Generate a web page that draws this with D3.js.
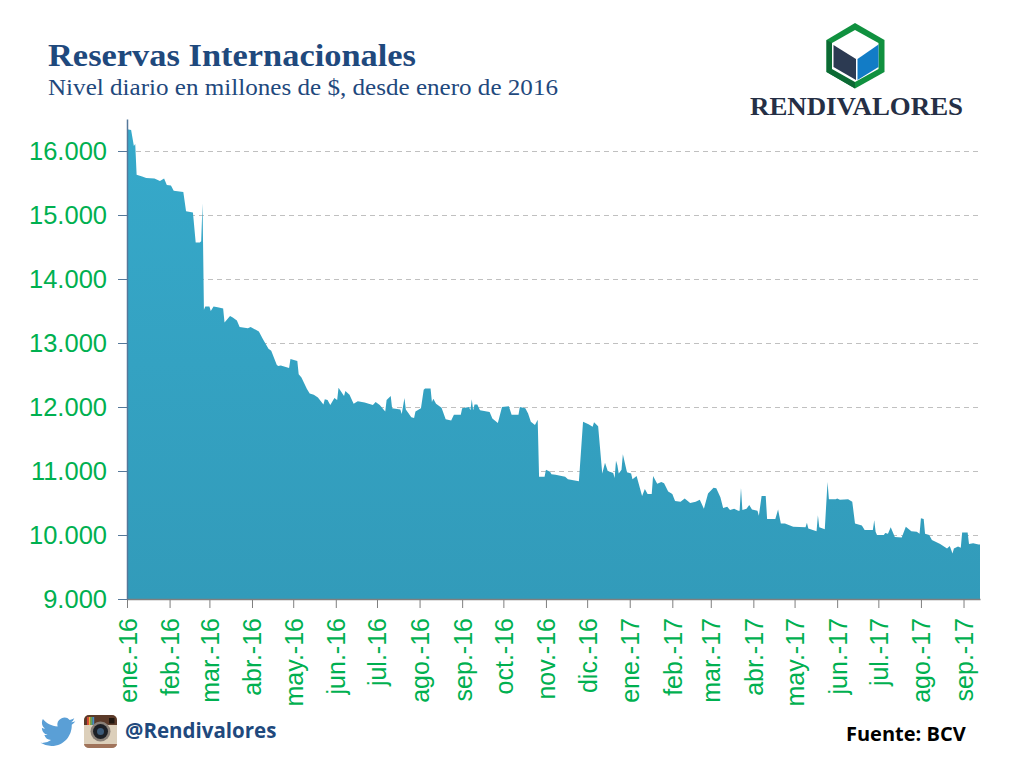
<!DOCTYPE html>
<html>
<head>
<meta charset="utf-8">
<title>Reservas Internacionales</title>
<script src="https://cdn.jsdelivr.net/npm/d3@7"></script>
<style>
	body { margin: 0; background: #fff; }
	svg { display: block; }
</style>
</head>
<body>
<svg width="1015" height="762"></svg>
<script>
// dias desde el 1 de enero de 2016
const dias = [0,3,5,6,7,11,14,20,24,27,29,32,34,41,43,48,50,53,54,55,56,57,60,61,63,66,70,71,75,77,80,82,88,90,96,99,103,105,109,110,112,118,119,124,125,127,131,133,136,139,143,144,146,148,151,153,154,158,159,162,165,168,173,179,181,184,188,189,192,193,199,200,202,203,207,209,210,214,216,217,221,222,223,225,229,232,236,238,243,244,249,250,251,252,253,255,257,264,266,270,273,278,280,285,286,290,292,294,297,299,300,304,305,308,309,312,319,321,329,332,336,339,340,343,346,348,350,354,355,356,357,358,360,361,364,367,368,371,375,377,379,382,383,386,389,391,394,397,399,403,406,410,414,417,420,423,427,429,432,434,437,439,442,445,446,447,448,451,453,455,459,460,462,465,466,472,474,476,479,485,494,495,496,502,503,504,508,510,511,516,517,519,525,528,530,535,537,543,544,545,546,551,552,554,556,559,564,567,571,575,577,578,580,581,584,586,592,597,599,601,602,605,607,608,612,613,616,620,621];
const reservas = [16340,16330,16080,16110,15630,15600,15580,15570,15530,15570,15470,15460,15380,15360,15060,15040,14570,14570,14590,15180,13520,13570,13570,13500,13570,13560,13540,13320,13420,13400,13350,13250,13230,13250,13180,13060,12910,12880,12660,12640,12650,12610,12750,12720,12510,12460,12280,12210,12190,12150,12040,12120,12110,12030,12140,12110,12300,12170,12250,12190,12050,12090,12070,12030,12080,12030,11930,12110,12170,11980,11960,11890,12140,11960,11840,11830,11930,11980,12270,12290,12290,12080,12130,12050,11990,11810,11790,11880,11880,11980,12000,11950,12120,11950,12040,12040,11950,11920,11820,11750,12000,12010,11880,11880,12000,11980,11900,11770,11720,11800,10910,10910,11020,10990,10950,10940,10910,10870,10840,11770,11730,11690,11760,11700,10960,11130,11000,10970,10890,11160,11090,10960,11020,11260,10980,10960,10870,10920,10610,10720,10640,10640,10920,10800,10830,10810,10680,10640,10530,10520,10570,10500,10520,10550,10410,10650,10740,10730,10590,10420,10440,10390,10410,10380,10380,10740,10390,10410,10470,10400,10380,10300,10610,10610,10250,10250,10400,10180,10180,10130,10120,10190,10100,10060,10310,10120,10090,10830,10560,10560,10570,10550,10560,10520,10180,10150,10080,10080,10230,10050,10000,10000,10030,10020,10120,9970,9960,10130,10060,10050,10020,10260,10250,10020,10000,9920,9860,9790,9830,9710,9790,9820,9800,10040,10040,9860,9870,9850,9850];

const meses = ["ene.-16","feb.-16","mar.-16","abr.-16","may.-16","jun.-16","jul.-16","ago.-16","sep.-16","oct.-16","nov.-16","dic.-16","ene.-17","feb.-17","mar.-17","abr.-17","may.-17","jun.-17","jul.-17","ago.-17","sep.-17"];
const yTicks = [9000,10000,11000,12000,13000,14000,15000,16000];

const inicio = new Date(2016, 0, 1);
const verde = "#00b050";
const azulTitulo = "#1f497d";

const svg = d3.select("svg");

const x = d3.scaleTime()
	.domain([inicio, d3.timeDay.offset(inicio, 621)])
	.range([127, 980]);
const y = d3.scaleLinear()
	.domain([9000, 16500])
	.range([599, 119]);

function drawGrid() {
	svg.append("g").selectAll("line")
		.data(yTicks.slice(1))
		.enter()
		.append("line")
		.attr("x1", 127)
		.attr("x2", 980)
		.attr("y1", d => y(d) + 0.5)
		.attr("y2", d => y(d) + 0.5)
		.attr("stroke", "#c0c0c0")
		.attr("stroke-width", 1)
		.attr("stroke-dasharray", "5,4");
}

function drawArea() {
	const grad = svg.append("defs").append("linearGradient")
		.attr("id", "relleno")
		.attr("x1", 0).attr("x2", 0).attr("y1", 0).attr("y2", 1);
	grad.append("stop").attr("offset", "0%").attr("stop-color", "#36a9ca");
	grad.append("stop").attr("offset", "100%").attr("stop-color", "#329bba");

	const area = d3.area()
		.x((d, i) => x(d3.timeDay.offset(inicio, d)))
		.y0(y(9000))
		.y1((d, i) => y(reservas[i]));

	svg.append("path")
		.datum(dias)
		.attr("d", area)
		.attr("fill", "url(#relleno)");
}

function drawAxes() {
	const xAxis = d3.axisBottom(x)
		.tickValues(meses.map((m, i) => d3.timeMonth.offset(inicio, i)))
		.tickFormat((d, i) => meses[i])
		.tickSize(9)
		.tickSizeOuter(0);
	const gx = svg.append("g")
		.attr("transform", "translate(0,599)")
		.call(xAxis);
	gx.select(".domain").attr("stroke", "#7f7f7f").attr("stroke-width", 1.5);
	gx.selectAll(".tick line").attr("stroke", "#7f7f7f").attr("stroke-width", 1);
	gx.selectAll("text")
		.attr("transform", "rotate(-90)")
		.attr("text-anchor", "end")
		.attr("x", -19)
		.attr("y", 0)
		.attr("dy", "0.36em")
		.attr("fill", verde)
		.attr("font-family", "'Liberation Sans', Arial, sans-serif")
		.attr("font-size", 25);

	const yAxis = d3.axisLeft(y)
		.tickValues(yTicks)
		.tickFormat(d => d3.format(",")(d).replace(",", "."))
		.tickSize(9)
		.tickPadding(11)
		.tickSizeOuter(0);
	const gy = svg.append("g")
		.attr("transform", "translate(127,0)")
		.call(yAxis);
	gy.select(".domain").attr("stroke", "#55789a").attr("stroke-width", 1.5);
	gy.selectAll(".tick line").attr("stroke", "#55789a").attr("stroke-width", 1);
	gy.selectAll("text")
		.attr("fill", verde)
		.attr("font-family", "'Liberation Sans', Arial, sans-serif")
		.attr("font-size", 25.5);
}

function drawTitles() {
	svg.append("text")
		.attr("x", 48).attr("y", 66)
		.attr("font-family", "'Liberation Serif', serif")
		.attr("font-weight", "bold")
		.attr("font-size", 32)
		.attr("textLength", 368)
		.attr("lengthAdjust", "spacingAndGlyphs")
		.attr("fill", azulTitulo)
		.text("Reservas Internacionales");
	svg.append("text")
		.attr("x", 48).attr("y", 95)
		.attr("font-family", "'Liberation Serif', serif")
		.attr("font-size", 23.5)
		.attr("textLength", 510)
		.attr("lengthAdjust", "spacingAndGlyphs")
		.attr("fill", azulTitulo)
		.text("Nivel diario en millones de $, desde enero de 2016");
}

function drawLogo() {
	const g = svg.append("g");
	const poly = (pts, fill) => g.append("polygon").attr("points", pts).attr("fill", fill);
	poly("855,23 884.5,40 884.5,72 855,88.5 826.5,72 826.5,40", "#10913f");
	poly("826.5,40 832,43 832,69 855,82 855,88.5 826.5,72", "#0c6a34");
	poly("855,30 878.5,43 878.5,69 855,82 832,69 832,43", "#fff");
	poly("833.5,45 856,59 856,80 833.5,67", "#2c3a52");
	poly("857.5,59 878.5,44.5 878.5,67 857.5,80", "#127cc6");
	svg.append("text")
		.attr("x", 750).attr("y", 115)
		.attr("font-family", "'Liberation Serif', serif")
		.attr("font-weight", "bold")
		.attr("font-size", 26)
		.attr("textLength", 213)
		.attr("lengthAdjust", "spacingAndGlyphs")
		.attr("fill", "#252f45")
		.text("RENDIVALORES");
}

function drawFooter() {
	// pajaro
	svg.append("path")
		.attr("transform", "translate(40.5,714.5) scale(1.45)")
		.attr("fill", "#5a9fd6")
		.attr("d", "M23.953 4.57a10 10 0 01-2.825.775 4.958 4.958 0 002.163-2.723c-.951.555-2.005.959-3.127 1.184a4.92 4.92 0 00-8.384 4.482C7.69 8.095 4.067 6.13 1.64 3.162a4.822 4.822 0 00-.666 2.475c0 1.71.87 3.213 2.188 4.096a4.904 4.904 0 01-2.228-.616v.06a4.923 4.923 0 003.946 4.827 4.996 4.996 0 01-2.212.085 4.936 4.936 0 004.604 3.417 9.867 9.867 0 01-6.102 2.105c-.39 0-.779-.023-1.17-.067a13.995 13.995 0 007.557 2.209c9.053 0 13.998-7.496 13.998-13.985 0-.21 0-.42-.015-.63A9.935 9.935 0 0024 4.59z");

	// camara
	const g = svg.append("g").attr("transform", "translate(84,715)");
	g.append("rect").attr("width", 33).attr("height", 33).attr("rx", 5).attr("fill", "#dccfba");
	g.append("path").attr("d", "M5 0H28A5 5 0 0 1 33 5V10H0V5A5 5 0 0 1 5 0Z").attr("fill", "#5b3a29");
	["#d9413a", "#e8b93c", "#5fa85a", "#4a8fc9"].forEach((c, i) => {
		g.append("rect").attr("x", 3 + i * 1.8).attr("y", 2).attr("width", 1.8).attr("height", 8).attr("fill", c);
	});
	g.append("rect").attr("x", 25).attr("y", 3).attr("width", 5.5).attr("height", 5.5).attr("fill", "#20160f");
	g.append("circle").attr("cx", 16.5).attr("cy", 16.5).attr("r", 10).attr("fill", "#8a8078");
	g.append("circle").attr("cx", 16.5).attr("cy", 16.5).attr("r", 7.5).attr("fill", "#1d2026");
	g.append("circle").attr("cx", 16.5).attr("cy", 16.5).attr("r", 3.5).attr("fill", "#3c5a78");
	g.append("path").attr("d", "M0 29H33A5 4 0 0 1 28 33H5A5 4 0 0 1 0 29Z").attr("fill", "#a0735a");

	svg.append("text")
		.attr("x", 125).attr("y", 738)
		.attr("font-family", "'Open Sans', sans-serif")
		.attr("font-weight", "bold")
		.attr("font-size", 20.5)
		.attr("fill", azulTitulo)
		.text("@Rendivalores");
	svg.append("text")
		.attr("x", 846).attr("y", 741)
		.attr("font-family", "'Open Sans', sans-serif")
		.attr("font-weight", "bold")
		.attr("font-size", 20)
		.attr("fill", "#000")
		.text("Fuente: BCV");
}

drawGrid();
drawArea();
drawAxes();
drawTitles();
drawLogo();
drawFooter();
</script>
</body>
</html>
